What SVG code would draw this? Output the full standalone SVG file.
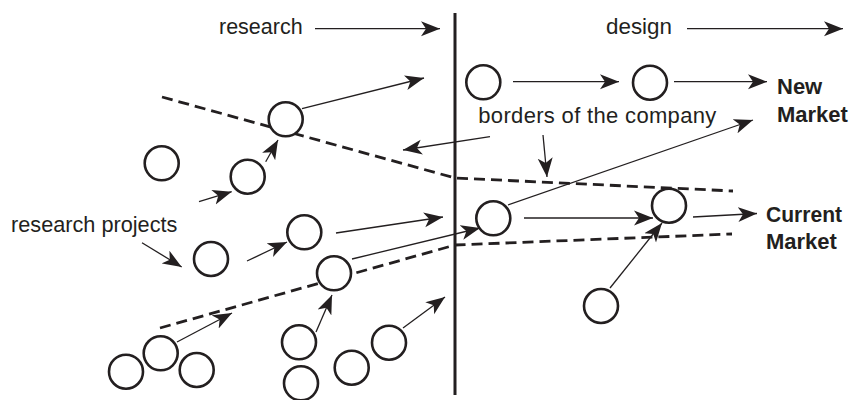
<svg xmlns="http://www.w3.org/2000/svg" width="851" height="400" viewBox="0 0 851 400">
<style>
  .node { fill: #ffffff; stroke: #231f20; stroke-width: 2.6; }
  .arrow { fill: none; stroke: #231f20; stroke-width: 1.3; marker-end: url(#head); }
  .dash { fill: none; stroke: #231f20; stroke-width: 2.8; stroke-dasharray: 11 6; }
  .divider { fill: none; stroke: #231f20; stroke-width: 3; }
  .lbl { font-family: "Liberation Sans", Arial, sans-serif; font-size: 22px; fill: #231f20; }
  .bold { font-weight: bold; }
</style>
<defs>
  <marker id="head" markerUnits="userSpaceOnUse" markerWidth="20" markerHeight="16" viewBox="-19 -8 20 16" refX="0" refY="0" orient="auto">
    <path d="M0,0 L-19,-7.5 L-14,0 L-19,7.5 Z" fill="#231f20"/>
  </marker>
</defs>
<rect width="851" height="400" fill="#ffffff"/>

<g id="connectors">
  <line class="divider" x1="455" y1="13" x2="455" y2="395"/>
  <polyline class="dash" points="162,97 455,178 733,191"/>
  <polyline class="dash" points="160,328 455,245 732,234"/>
  <line class="arrow" x1="315" y1="28.7" x2="440" y2="28.7"/>
  <line class="arrow" x1="687" y1="28.7" x2="843" y2="28.7"/>
  <line class="arrow" x1="302" y1="108.7" x2="424" y2="78"/>
  <line class="arrow" x1="265.7" y1="161.7" x2="278" y2="140"/>
  <line class="arrow" x1="199" y1="201.7" x2="231.7" y2="191.7"/>
  <line class="arrow" x1="513" y1="81.7" x2="619" y2="81.7"/>
  <line class="arrow" x1="674" y1="81.7" x2="767" y2="81.7"/>
  <line class="arrow" x1="490" y1="136.7" x2="403" y2="150"/>
  <line class="arrow" x1="543" y1="135" x2="547" y2="177"/>
  <line class="arrow" x1="508" y1="205" x2="753" y2="120"/>
  <line class="arrow" x1="142" y1="242.7" x2="181.7" y2="267"/>
  <line class="arrow" x1="247" y1="261" x2="287" y2="242"/>
  <line class="arrow" x1="336" y1="233" x2="443" y2="217"/>
  <line class="arrow" x1="352" y1="259" x2="480" y2="228"/>
  <line class="arrow" x1="524" y1="218" x2="653" y2="218"/>
  <line class="arrow" x1="693" y1="217" x2="757" y2="213.5"/>
  <line class="arrow" x1="610" y1="288" x2="662" y2="223"/>
  <line class="arrow" x1="177" y1="342" x2="232" y2="313"/>
  <line class="arrow" x1="316" y1="332" x2="332" y2="295"/>
  <line class="arrow" x1="403" y1="328" x2="445" y2="297"/>
</g>

<g id="nodeA"><circle class="node" cx="285.7" cy="119.3" r="17"/></g>
<g id="nodeB"><circle class="node" cx="161.7" cy="163.3" r="17"/></g>
<g id="nodeC"><circle class="node" cx="247.7" cy="176.7" r="17"/></g>
<g id="nodeD"><circle class="node" cx="211" cy="259" r="17"/></g>
<g id="nodeE"><circle class="node" cx="304.3" cy="232.3" r="17"/></g>
<g id="nodeF"><circle class="node" cx="334" cy="273.3" r="17"/></g>
<g id="nodeG"><circle class="node" cx="160.7" cy="353.3" r="17"/></g>
<g id="nodeH"><circle class="node" cx="126" cy="371.7" r="17"/></g>
<g id="nodeI"><circle class="node" cx="196.7" cy="370" r="17"/></g>
<g id="nodeJ"><circle class="node" cx="299" cy="342.3" r="17"/></g>
<g id="nodeK"><circle class="node" cx="301" cy="383.3" r="17"/></g>
<g id="nodeL"><circle class="node" cx="351.7" cy="367.7" r="17"/></g>
<g id="nodeM"><circle class="node" cx="389" cy="342.7" r="17"/></g>
<g id="nodeN"><circle class="node" cx="483.3" cy="82.3" r="17"/></g>
<g id="nodeO"><circle class="node" cx="650" cy="82.7" r="17"/></g>
<g id="nodeP"><circle class="node" cx="493.3" cy="218.3" r="17"/></g>
<g id="nodeQ"><circle class="node" cx="669" cy="205.7" r="17"/></g>
<g id="nodeR"><circle class="node" cx="601" cy="306" r="17"/></g>

<g id="labels">
  <text class="lbl" x="219" y="34.3" style="font-size:21.5px">research</text>
  <text class="lbl" x="606" y="34" textLength="66" lengthAdjust="spacingAndGlyphs">design</text>
  <text class="lbl" x="478.3" y="123.3" textLength="238" lengthAdjust="spacing">borders of the company</text>
  <text class="lbl" x="11" y="231.7" style="font-size:21.7px">research projects</text>
  <text class="lbl bold" x="777" y="94.3">New</text>
  <text class="lbl bold" x="777" y="121.7">Market</text>
  <text class="lbl bold" x="766" y="221.7" textLength="76" lengthAdjust="spacingAndGlyphs">Current</text>
  <text class="lbl bold" x="766" y="249">Market</text>
</g>
</svg>
